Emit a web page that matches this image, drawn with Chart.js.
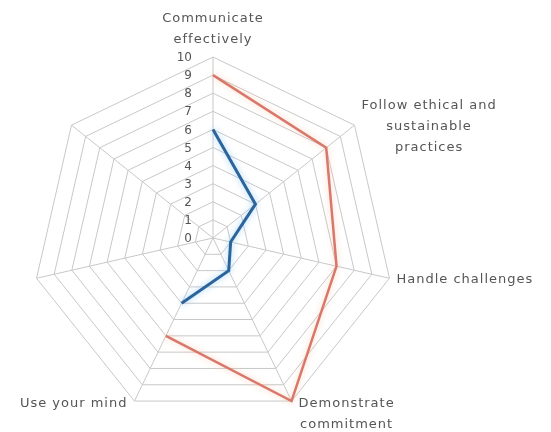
<!DOCTYPE html>
<html>
<head>
<meta charset="utf-8">
<script src="https://cdn.jsdelivr.net/npm/chart.js@4"></script>
<style>
  html, body { margin: 0; padding: 0; background: #fff; }
</style>
</head>
<body>
<canvas id="radarChart" width="551" height="432"></canvas>
<script>
// categories (last two spokes carry no label in the original)
var labels = [
    ["Communicate", "effectively"],
    ["Follow ethical and", "sustainable", "practices"],
    ["Handle challenges"],
    ["Demonstrate", "commitment"],
    ["Use your mind"],
    "",
    ""
];
var targetScores = [9, 8, 7, 10, 6, null, null];
var currentScores = [6, 3, 1, 2, 4, null, null];
var tickValues = [0, 1, 2, 3, 4, 5, 6, 7, 8, 9, 10];

var textColor = '#555555';
var labelFont = '13px "DejaVu Sans", Verdana, sans-serif';

// soft glow under each series line
var glowPlugin = {
    id: 'glow',
    beforeDatasetDraw: function(chart, args) {
        var ctx = chart.ctx;
        ctx.save();
        ctx.shadowColor = args.index === 0 ? 'rgba(250,190,160,0.7)' : 'rgba(150,205,245,0.9)';
        ctx.shadowBlur = 6;
    },
    afterDatasetDraw: function(chart) {
        chart.ctx.restore();
    }
};

// tick numbers left of the top spoke, and the spoke labels
var labelPlugin = {
    id: 'radarText',
    afterDraw: function(chart) {
        var ctx = chart.ctx;
        var scale = chart.scales.r;
        var cx = scale.xCenter, cy = scale.yCenter;

        ctx.save();
        ctx.fillStyle = textColor;
        ctx.font = '12px "DejaVu Sans", Verdana, sans-serif';
        ctx.textAlign = 'right';
        ctx.textBaseline = 'middle';
        tickValues.forEach(function(v) {
            var p = scale.getPointPositionForValue(0, v);
            ctx.fillText(String(v), p.x - 21, p.y + 1);
        });

        ctx.font = labelFont;
        if ('letterSpacing' in ctx) ctx.letterSpacing = '1px';
        var lineH = 21;
        labels.forEach(function(lab, i) {
            var lines = Array.isArray(lab) ? lab : [lab];
            if (!lines[0]) return;
            var p = scale.getPointPositionForValue(i, 10);
            var widths = lines.map(function(t) { return ctx.measureText(t).width; });
            var blockW = Math.max.apply(null, widths);
            var blockH = lines.length * lineH;
            var dx = p.x - cx, dy = p.y - cy;
            var r = Math.sqrt(dx * dx + dy * dy);
            var cosA = -dy / r;
            var left, top;
            if (Math.abs(dx) < 5) {
                left = p.x - blockW / 2;
                top = p.y - 7 - blockH;
            } else {
                left = dx > 0 ? p.x + 7 : p.x - 7 - blockW;
                top = cosA < -0.5 ? p.y - 8 : p.y - blockH / 2 + 1;
            }
            ctx.textAlign = 'center';
            lines.forEach(function(t, k) {
                ctx.fillText(t, left + blockW / 2, top + lineH * k + lineH / 2);
            });
        });
        ctx.restore();
    }
};

var ctx = document.getElementById('radarChart').getContext('2d');
new Chart(ctx, {
    type: 'radar',
    data: {
        labels: labels,
        datasets: [{
            label: 'Target',
            data: targetScores,
            borderColor: '#d8776a',
            borderWidth: 2.5,
            fill: false,
            pointRadius: 0,
            spanGaps: false
        }, {
            label: 'Current',
            data: currentScores,
            borderColor: '#2b659c',
            borderWidth: 3,
            fill: false,
            pointRadius: 0,
            spanGaps: false
        }]
    },
    options: {
        responsive: false,
        animation: false,
        layout: {
            padding: { left: 32, right: 157, top: 57, bottom: 13 }
        },
        plugins: {
            legend: { display: false },
            tooltip: { enabled: false }
        },
        scales: {
            r: {
                min: 0,
                max: 10,
                ticks: { stepSize: 1, display: false },
                pointLabels: { display: false },
                grid: { color: '#c8c8c8', lineWidth: 1 },
                angleLines: { color: '#c8c8c8', lineWidth: 1 }
            }
        }
    },
    plugins: [glowPlugin, labelPlugin]
});
</script>
</body>
</html>
